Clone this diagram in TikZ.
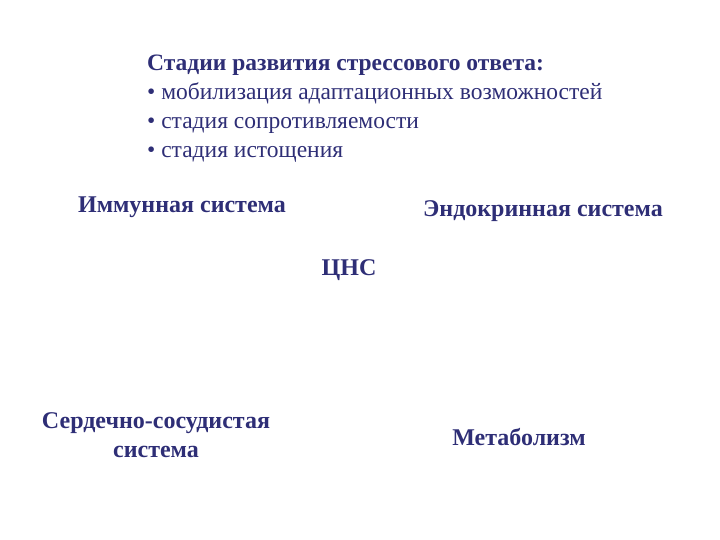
\documentclass[tikz,border=0pt]{standalone}
\usepackage{fontspec}
\setmainfont{Liberation Serif}
\definecolor{inkblue}{RGB}{46,46,118}
\tikzset{
	sysname/.style={text=inkblue, font=\fontsize{24}{29}\selectfont\bfseries, align=center, inner sep=0pt},
	stages/.style={text=inkblue, font=\fontsize{23.5}{29}\selectfont, align=left, inner sep=0pt}
}

\begin{document}
\begin{tikzpicture}[x=1pt, y=-1pt]
		%%%%% START %%%%%
		\useasboundingbox (0, 0) rectangle (720, 540);
		
		\node[stages, anchor=north west] (stagelist) at (147, 55) {{\bfseries Стадии развития стрессового ответа:}\\
			• мобилизация адаптационных возможностей\\
			• стадия сопротивляемости\\
			• стадия истощения};
		
		\node[sysname] (immune) at (182, 207) {Иммунная система};
		\node[sysname] (endocrine) at (543, 211) {Эндокринная система};
		\node[sysname] (cns) at (349, 270) {ЦНС};
		\node[sysname] (cardio) at (156, 435) {Сердечно-сосудистая\\система};
		\node[sysname] (metab) at (519, 437) {Метаболизм};
		%%%%% END %%%%%
	\end{tikzpicture}
\end{document}
